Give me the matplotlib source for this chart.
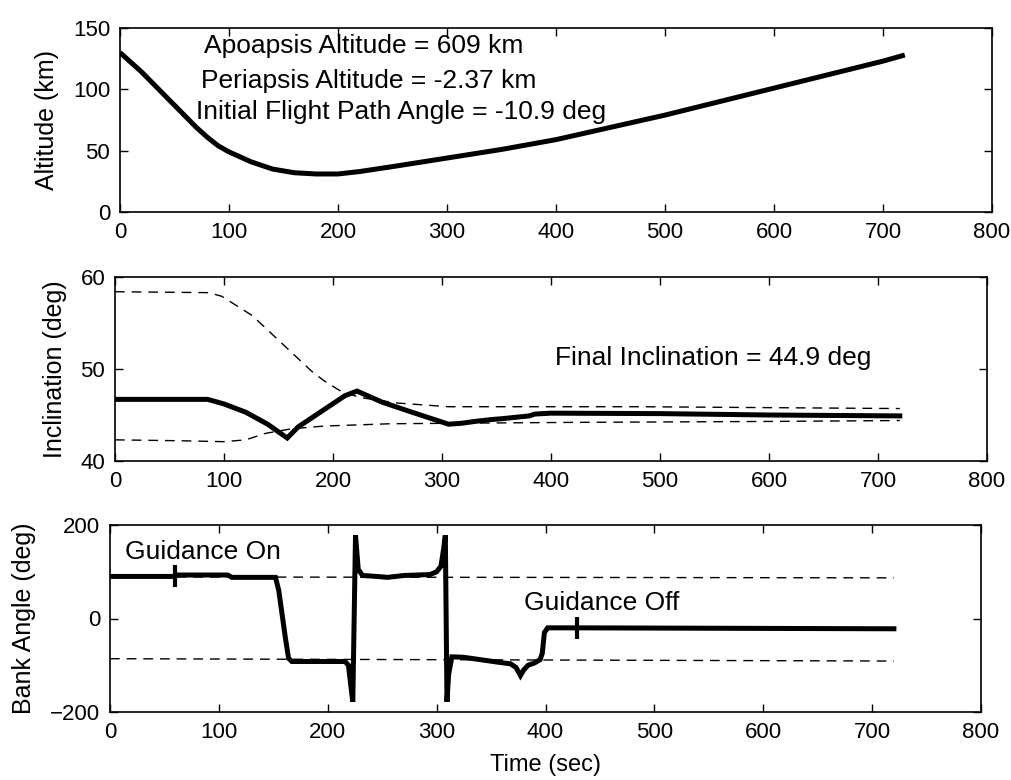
import matplotlib
matplotlib.use("Agg")
import matplotlib.pyplot as plt

plt.rcParams['font.family'] = ['Liberation Sans', 'DejaVu Sans']

# ---------------- data ----------------
alt_t = [0, 10, 20, 30, 40, 50, 60, 70, 80, 90, 100, 120, 140, 160, 180, 200, 220, 250, 300, 350, 400, 450, 500,
         550, 600, 650, 700, 720]
alt_km = [130, 122, 114, 105, 96, 87, 78, 69, 61, 54, 49, 41, 35, 32, 31, 31, 33, 37, 44, 51, 59, 69, 79,
          90, 101, 112, 123, 128]

inc_t = [0, 85, 100, 120, 140, 158, 168, 192, 211, 222, 245, 270, 306, 318, 330, 345, 355, 380, 385, 400, 500, 600, 720]
inc_deg = [46.7, 46.7, 46.2, 45.3, 44.0, 42.5, 43.7, 45.6, 47.1, 47.6, 46.4, 45.4, 44.0, 44.1, 44.3, 44.5, 44.6, 44.9, 45.1, 45.2, 45.15, 45.0, 44.9]

inc_up_t = [0, 86, 98, 110, 126, 144, 162, 180, 192, 207, 225, 259, 306, 400, 482, 600, 720]
inc_up = [58.4, 58.3, 57.9, 57.0, 55.8, 53.8, 51.8, 49.8, 48.7, 47.6, 46.9, 46.3, 45.9, 45.9, 45.9, 45.8, 45.7]
inc_lo_t = [0, 60, 100, 120, 138, 162, 192, 253, 306, 423, 600, 720]
inc_lo = [42.3, 42.2, 42.1, 42.3, 43.0, 43.5, 43.8, 44.05, 44.1, 44.2, 44.3, 44.4]

bank_t = [0, 60, 62, 108, 112, 152, 155, 158, 161, 164, 167, 216, 219, 221, 223, 225.5, 228, 232, 245, 255,
          270, 294, 300, 304, 306.5, 308, 309.5, 311, 314, 325, 340, 355, 368, 373, 377, 380, 384, 390, 395,
          397, 399, 402, 430, 720]
bank_deg = [90, 90, 93, 93, 88, 88, 60, 10, -40, -85, -92, -92, -100, -140, -178, 178, 105, 92, 90, 88,
            92, 94, 100, 112, 150, 178, -178, -120, -82, -83, -88, -93, -97, -105, -122, -110, -100, -95, -88,
            -75, -30, -20, -20, -22]
bank_up_t = [0, 720]
bank_up = [89, 87]
bank_lo_t = [0, 720]
bank_lo = [-86, -91]

marker_t = [60, 429]
marker_bank = [91, -20]

x_ticks = [0, 100, 200, 300, 400, 500, 600, 700, 800]

# ---------------- figure ----------------
W, H = 1011, 780
fig = plt.figure(figsize=(W / 100, H / 100), dpi=100)

def px_axes(l, r, t, b):
    return fig.add_axes([l / W, 1 - b / H, (r - l) / W, (b - t) / H])

ax1 = px_axes(120, 992, 28, 212)
ax2 = px_axes(115, 987, 277, 461)
ax3 = px_axes(110, 981, 525, 712)

tick_fs = 16
lab_fs = 18
txt_fs = 19
solid_lw = 3.6
dash_lw = 1.0
dash = (0, (7, 5))

for ax in (ax1, ax2, ax3):
    ax.set_xlim(0, 800)
    ax.set_xticks(x_ticks)
    ax.tick_params(direction='in', length=6, width=1.0, top=True, right=True,
                   labelsize=tick_fs, pad=7)
    ax.tick_params(axis='x', pad=7)
    for s in ax.spines.values():
        s.set_linewidth(1.2)

# Altitude
ax1.plot(alt_t, alt_km, color='black', lw=solid_lw, solid_capstyle='butt')
ax1.set_ylim(0, 150)
ax1.set_yticks([0, 50, 100, 150])
ax1.set_ylabel('Altitude (km)', fontsize=lab_fs, labelpad=10)
ax1.text(77, 135.5, 'Apoapsis Altitude = 609 km', fontsize=txt_fs, va='center', ha='left')
ax1.text(74, 106.5, 'Periapsis Altitude = -2.37 km', fontsize=txt_fs, va='center', ha='left')
ax1.text(70, 81.3, 'Initial Flight Path Angle = -10.9 deg', fontsize=txt_fs, va='center', ha='left')

# Inclination
ax2.plot(inc_up_t, inc_up, color='black', lw=dash_lw, linestyle=dash)
ax2.plot(inc_lo_t, inc_lo, color='black', lw=dash_lw, linestyle=dash)
ax2.plot(inc_t, inc_deg, color='black', lw=solid_lw, solid_joinstyle='miter')
ax2.set_ylim(40, 60)
ax2.set_yticks([40, 50, 60])
ax2.set_ylabel('Inclination (deg)', fontsize=lab_fs, labelpad=10)
ax2.text(404, 51.2, 'Final Inclination = 44.9 deg', fontsize=txt_fs, va='center', ha='left')

# Bank angle
ax3.plot(bank_up_t, bank_up, color='black', lw=dash_lw, linestyle=dash)
ax3.plot(bank_lo_t, bank_lo, color='black', lw=dash_lw, linestyle=dash)
ax3.plot(bank_t, bank_deg, color='black', lw=solid_lw, solid_joinstyle='miter')
ax3.plot(marker_t, marker_bank, linestyle='none', marker='|', markersize=16,
         markeredgewidth=3, color='black')
ax3.set_ylim(-200, 200)
ax3.set_yticks([-200, 0, 200])
ax3.set_ylabel('Bank Angle (deg)', fontsize=lab_fs, labelpad=10)
ax3.set_xlabel('Time (sec)', fontsize=17, labelpad=8)
ax3.text(14, 142, 'Guidance On', fontsize=txt_fs, va='center', ha='left')
ax3.text(380, 34, 'Guidance Off', fontsize=txt_fs, va='center', ha='left')

fig.savefig('out.png', dpi=100, facecolor='white')
